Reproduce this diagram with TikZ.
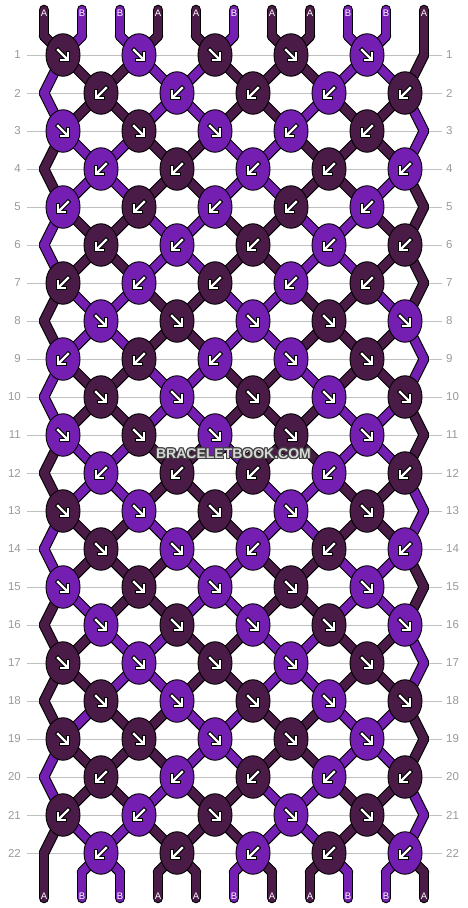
\documentclass[tikz,border=0pt]{standalone}
\usepackage{fontspec}
\setmainfont{Liberation Sans}
\usetikzlibrary{shapes.geometric}
\definecolor{colD}{HTML}{4A1B47}
\definecolor{colP}{HTML}{741EB2}
\definecolor{rowgrey}{HTML}{C0C0C0}
\definecolor{labgrey}{HTML}{999999}
\definecolor{wmfill}{HTML}{D8D8D8}
\definecolor{wmedge}{HTML}{404040}
\def\statelist{%
0/{D,P,P,D,D,P,D,D,P,P,D},%
1/{P,D,D,P,P,D,D,D,P,P,D},%
2/{P,D,D,P,P,D,D,P,D,D,P},%
3/{D,P,P,D,D,P,P,D,D,D,P},%
4/{D,P,P,D,D,P,P,D,D,P,D},%
5/{P,D,D,P,P,D,D,P,P,D,D},%
6/{P,D,D,P,P,D,D,P,P,D,D},%
7/{D,P,P,D,D,P,P,D,D,P,D},%
8/{D,P,P,D,D,P,P,D,D,D,P},%
9/{P,D,D,P,P,D,D,P,D,D,P},%
10/{P,D,D,P,P,D,D,D,P,P,D},%
11/{D,P,P,D,D,P,D,D,P,P,D},%
12/{D,P,P,D,D,D,P,P,D,D,P},%
13/{P,D,D,P,D,D,P,P,D,D,P},%
14/{P,D,D,D,P,P,D,D,P,P,D},%
15/{D,P,D,D,P,P,D,D,P,P,D},%
16/{D,D,P,P,D,D,P,P,D,D,P},%
17/{D,D,P,P,D,D,P,P,D,D,P},%
18/{D,P,D,D,P,P,D,D,P,P,D},%
19/{P,D,D,D,P,P,D,D,P,P,D},%
20/{P,D,D,P,D,D,P,P,D,D,P},%
21/{D,P,P,D,D,D,P,P,D,D,P},%
22/{D,P,P,D,D,P,D,D,P,P,D}}
\def\knotlist{%
1/{D/R,P/R,D/R,D/R,P/R},%
2/{D/L,P/L,D/L,P/L,D/L},%
3/{P/R,D/R,P/R,P/L,D/L},%
4/{P/L,D/L,P/L,D/L,P/L},%
5/{P/L,D/L,P/L,D/L,P/L},%
6/{D/L,P/L,D/L,P/L,D/L},%
7/{D/L,P/L,D/L,P/L,D/L},%
8/{P/R,D/R,P/R,D/R,P/R},%
9/{P/L,D/L,P/L,P/R,D/R},%
10/{D/R,P/R,D/R,P/R,D/R},%
11/{P/R,D/R,P/R,D/R,P/R},%
12/{P/L,D/L,D/L,P/L,D/L},%
13/{D/R,P/R,D/R,P/R,D/R},%
14/{D/R,P/R,P/L,D/L,P/L},%
15/{P/R,D/R,P/R,D/R,P/R},%
16/{P/R,D/R,P/R,D/R,P/R},%
17/{D/R,P/R,D/R,P/R,D/R},%
18/{D/R,P/R,D/R,P/R,D/R},%
19/{D/R,D/R,P/R,D/R,P/R},%
20/{D/L,P/L,D/L,P/L,D/L},%
21/{D/L,P/L,D/R,P/R,D/R},%
22/{P/L,D/L,P/L,D/L,P/L}}
\begin{document}
\begin{tikzpicture}[x=1pt,y=-1pt,
  strout/.style={line width=10.6pt, line cap=round, line join=round, black},
  strin/.style={line width=8.4pt, line cap=round, line join=round},
  knot/.style={ellipse, draw=black, line width=0.9pt, minimum width=34pt, minimum height=42.5pt, inner sep=0pt},
  rowline/.style={rowgrey, line width=1pt},
  rowlab/.style={labgrey, inner sep=0pt, font=\fontsize{11.5}{12}\selectfont},
  endlab/.style={white, inner sep=0pt, font=\fontsize{9.5}{10}\selectfont},
  arrout/.style={black, line width=4.4pt, line cap=rect, line join=miter},
  arrin/.style={white, line width=2.4pt, line cap=rect, line join=miter},
  wmtext/.style={inner sep=0pt, font=\fontsize{14}{14}\selectfont\bfseries}
]
\useasboundingbox (0,0) rectangle (468,908);
% row labels and guide lines
\foreach \r in {1,...,22} {
  \node[rowlab, anchor=east] (L-\r) at (21,{55+38*(\r-1)}) {\r};
  \node[rowlab, anchor=west] (R-\r) at (446,{55+38*(\r-1)}) {\r};
  \draw[rowline] ([xshift=5.7pt]L-\r.east) -- ([xshift=-4.3pt]R-\r.west);
}
% string positions
\foreach \r in {1,...,22} {
  \foreach \p in {1,...,11} {
    \pgfmathtruncatemacro\odd{mod(\r,2)}
    \ifnum\odd=1
      \ifnum\p=11 \def\xx{424}\else\pgfmathsetmacro\xx{63+76*int((\p-1)/2)}\fi
    \else
      \ifnum\p=1 \def\xx{44}\else\pgfmathsetmacro\xx{25+76*int(\p/2)}\fi
    \fi
    \coordinate (P-\r-\p) at (\xx,{55+38*(\r-1)});
  }
}
\foreach \p in {1,...,11} {
  \coordinate (T-\p) at ({44+38*(\p-1)},10);
  \coordinate (P-0-\p) at ({44+38*(\p-1)},36);
  \coordinate (P-23-\p) at ({44+38*(\p-1)},872);
  \coordinate (Bt-\p) at ({44+38*(\p-1)},898);
}
% strings: outlines
\foreach \r/\st in \statelist {
  \pgfmathtruncatemacro\rn{\r+1}
  \foreach \kc [count=\p] in \st {
    \draw[strout] (P-\r-\p) -- (P-\rn-\p);
  }
}
\foreach \p in {1,...,11} {
  \draw[strout] (T-\p) -- (P-0-\p);
  \draw[strout] (P-23-\p) -- (Bt-\p);
}
% strings: colours
\foreach \r/\st in \statelist {
  \pgfmathtruncatemacro\rn{\r+1}
  \foreach \kc [count=\p] in \st {
    \draw[strin, color=col\kc] (P-\r-\p) -- (P-\rn-\p);
  }
}
\foreach \kc [count=\p] in {D,P,P,D,D,P,D,D,P,P,D} {
  \draw[strin, color=col\kc] (T-\p) -- (P-0-\p);
  \draw[strin, color=col\kc] (P-23-\p) -- (Bt-\p);
}
% knots
\foreach \r/\kl in \knotlist {
  \pgfmathtruncatemacro\odd{mod(\r,2)}
  \foreach \kc/\dir [count=\j] in \kl {
    \ifnum\odd=1 \pgfmathsetmacro\xx{63+76*(\j-1)}\else\pgfmathsetmacro\xx{101+76*(\j-1)}\fi
    \node[knot, fill=col\kc] (K-\r-\j) at (\xx,{55+38*(\r-1)}) {};
    \if\dir R\def\sx{1}\else\def\sx{-1}\fi
    \begin{scope}[shift={(K-\r-\j.center)}, xscale=\sx]
      \draw[arrout] (-5,-5) -- (3.6,3.6);
      \draw[arrout] (5,-2) -- (5,5) -- (-2,5);
      \draw[arrin] (-5,-5) -- (3.6,3.6);
      \draw[arrin] (5,-2) -- (5,5) -- (-2,5);
    \end{scope}
  }
}
% end labels
\foreach \lab [count=\p] in {A,B,B,A,A,B,A,A,B,B,A} {
  \node[endlab] (TL-\p) at ({44+38*(\p-1)},13.3) {\lab};
  \node[endlab] (BL-\p) at ({44+38*(\p-1)},896.7) {\lab};
}
% watermark
\coordinate (WMc) at (233.5,453.5);
\foreach \dx/\dy [count=\i] in {-1/-1,0/-1,1/-1,-1/0,1/0,-1/1,0/1,1/1} {
  \node[wmtext, text=wmedge] (WMo\i) at ([shift={(\dx,\dy)}]WMc) {BRACELETBOOK.COM};
}
\node[wmtext, text=wmfill] (WM) at (WMc) {BRACELETBOOK.COM};
\end{tikzpicture}
\end{document}
